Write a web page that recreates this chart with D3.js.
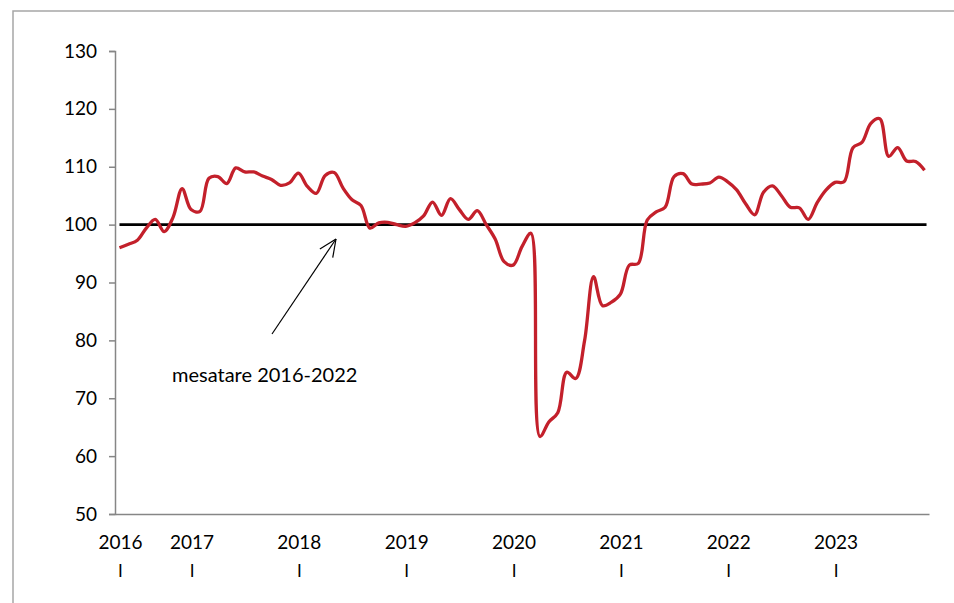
<!DOCTYPE html>
<html>
<head>
<meta charset="utf-8">
<script src="https://cdn.jsdelivr.net/npm/d3@7"></script>
<style>
html,body{margin:0;padding:0;background:#fff;}
svg{display:block;}
text{font-family:Lato,"Noto Sans",sans-serif;fill:#000;}
</style>
</head>
<body>
<svg id="chart" width="954" height="603"></svg>
<script>
// Monthly index values, May 2016 – Nov 2023
const values = [
  96.0, 96.6, 97.3, 99.4, 100.9, 98.8, 101.3, 106.2,
  102.6, 102.3, 108.0, 108.3, 107.1, 109.8, 109.1, 109.1, 108.4, 107.8, 106.8, 107.2,
  108.9, 106.6, 105.4, 108.5, 109.0, 106.3, 104.3, 103.3, 99.4, 100.3, 100.4, 100.0,
  99.7, 100.3, 101.5, 103.9, 101.6, 104.5, 102.6, 100.9, 102.4, 100.0, 97.5, 93.6,
  93.0, 96.2, 98.5, 63.4, 65.9, 67.5, 74.5, 73.4, 80.0, 91.0, 86.0, 86.6,
  88.0, 93.0, 93.3, 100.8, 102.2, 103.0, 108.3, 108.8, 107.0, 107.0, 107.2, 108.2,
  107.4, 106.0, 103.6, 101.7, 105.6, 106.7, 105.0, 103.0, 102.9, 100.9, 103.8, 106.0,
  107.3, 107.4, 113.3, 114.2, 117.5, 118.3, 111.8, 113.3, 111.0, 110.9, 109.4
];
const averageLevel = 100;
const yearLabels = ["2016", "2017", "2018", "2019", "2020", "2021", "2022", "2023"];
const yearLabelIndex = [0, 8, 20, 32, 44, 56, 68, 80];
const monthMark = "I";
const yTicks = [50, 60, 70, 80, 90, 100, 110, 120, 130];
const annotation = "mesatare 2016-2022";

const svg = d3.select("#chart");
const mL = 115, mR = 929, mT = 51, mB = 514;

// outer chart border (top and left visible)
svg.append("rect")
  .attr("x", 13).attr("y", 11).attr("width", 1000).attr("height", 700)
  .attr("fill", "none").attr("stroke", "#a6a6a6").attr("stroke-width", 1.5);

const idx = d3.range(values.length);
const x = d3.scaleBand().domain(idx).range([mL, mR]).paddingInner(0).paddingOuter(0);
const cx = i => x(i) + x.bandwidth() / 2;
const y = d3.scaleLinear().domain([50, 130]).range([mB, mT]);

// Y axis
const yAxis = d3.axisLeft(y).tickValues(yTicks).tickSize(6).tickPadding(12).tickFormat(d3.format("d"));
const ya = svg.append("g").attr("transform", `translate(${mL},0)`).call(yAxis);
ya.select(".domain").attr("stroke", "#868686").attr("stroke-width", 1.5);
ya.selectAll(".tick line").attr("stroke", "#868686").attr("stroke-width", 1.5);
ya.selectAll(".tick text").style("font-size", "19px").style("font-family", "Lato, sans-serif").attr("fill", "#000");

// X axis line
const xAxis = d3.axisBottom(x).tickValues([]).tickSize(0);
const xa = svg.append("g").attr("transform", `translate(0,${mB})`).call(xAxis);
xa.select(".domain").attr("stroke", "#868686").attr("stroke-width", 1.5);

// category labels
const lab = svg.append("g");
yearLabelIndex.forEach((i, k) => {
  lab.append("text").attr("x", cx(i) + 1).attr("y", 549)
    .attr("text-anchor", "middle").style("font-size", "19px").text(yearLabels[k]);
  lab.append("text").attr("x", cx(i) + 1).attr("y", 577)
    .attr("text-anchor", "middle").style("font-size", "17px").text(monthMark);
});

// average line
svg.append("line")
  .attr("x1", cx(0)).attr("x2", cx(values.length - 1) + 2)
  .attr("y1", y(averageLevel)).attr("y2", y(averageLevel))
  .attr("stroke", "#000").attr("stroke-width", 2.6);

// data line
const line = d3.line().x((d, i) => cx(i)).y(d => y(d)).curve(d3.curveCatmullRom.alpha(0.5));
svg.append("path").datum(values)
  .attr("d", line).attr("fill", "none")
  .attr("stroke", "#c3202b").attr("stroke-width", 3.3).attr("stroke-linejoin", "round");

// annotation arrow
const ax1 = 272, ay1 = 334, ax2 = 336, ay2 = 239;
svg.append("line").attr("x1", ax1).attr("y1", ay1).attr("x2", ax2).attr("y2", ay2)
  .attr("stroke", "#000").attr("stroke-width", 1.2);
const ang = Math.atan2(ay2 - ay1, ax2 - ax1);
const hl = 19, ha = 0.42;
[ang + Math.PI - ha, ang + Math.PI + ha].forEach(a => {
  svg.append("line").attr("x1", ax2).attr("y1", ay2)
    .attr("x2", ax2 + hl * Math.cos(a)).attr("y2", ay2 + hl * Math.sin(a))
    .attr("stroke", "#000").attr("stroke-width", 1.2);
});
svg.append("text").attr("x", 172).attr("y", 382).style("font-size", "20px").text(annotation);
</script>
</body>
</html>
